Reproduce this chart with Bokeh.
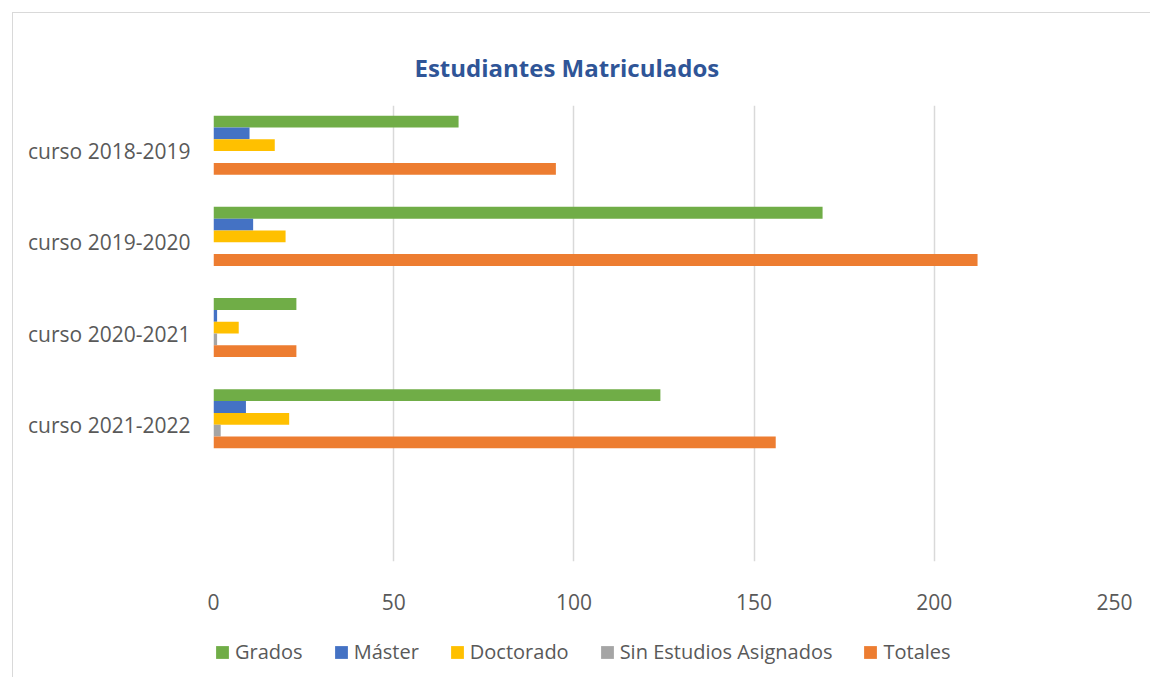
from bokeh.plotting import figure
from bokeh.layouts import column
from bokeh.models import ColumnDataSource, FactorRange, FixedTicker, Legend, LegendItem, Range1d
from bokeh.transform import dodge
from bokeh.embed import file_html
from bokeh.resources import INLINE

# ---- data ----
cursos = ["curso 2018-2019", "curso 2019-2020", "curso 2020-2021", "curso 2021-2022"]
grados = [68, 169, 23, 124]
master = [10, 11, 1, 9]
doctorado = [17, 20, 7, 21]
sin_estudios = [0, 0, 1, 2]
totales = [95, 212, 23, 156]
x_ticks = [0, 50, 100, 150, 200, 250]
series_names = ["Grados", "Máster", "Doctorado", "Sin Estudios Asignados", "Totales"]
series_keys = ["grados", "master", "doctorado", "sin", "totales"]
colors = ["#70AD47", "#4472C4", "#FFC000", "#A5A5A5", "#ED7D31"]

source = ColumnDataSource(dict(curso=cursos, grados=grados, master=master,
                               doctorado=doctorado, sin=sin_estudios, totales=totales))

factors = [" "] + cursos[::-1]
FONT = "Open Sans"
TXT = "#595959"
BORDER = "#D9D9D9"

W = 1150
H_MAIN = 625
H_LEG = 52

p = figure(width=W, height=H_MAIN,
           y_range=FactorRange(factors=factors),
           x_range=Range1d(0, 250),
           output_backend="svg", toolbar_location=None,
           min_border_left=213, min_border_right=36,
           min_border_top=105, min_border_bottom=H_MAIN - 561)
p.border_fill_alpha = 0
p.styles = {
    "background": f"linear-gradient({BORDER},{BORDER}) 12px 12px / 1px 100% no-repeat, "
                  f"linear-gradient({BORDER},{BORDER}) 12px 12px / 100% 1px no-repeat, #FFFFFF"
}

p.title.text = "Estudiantes Matriculados"
p.title.text_font = FONT
p.title.text_font_style = "bold"
p.title.text_font_size = "24px"
p.title.text_color = "#2F5597"
p.title.align = "left"
p.title.offset = 201
p.title.standoff = 44

h = 0.1295
offsets = [2.5 * h, 1.5 * h, 0.5 * h, -0.5 * h, -1.5 * h]
for key, col, off in zip(series_keys, colors, offsets):
    p.hbar(y=dodge("curso", off, range=p.y_range), right=key, left=0,
           height=h, source=source, fill_color=col, line_color=None)

p.xaxis.ticker = FixedTicker(ticks=x_ticks)
p.xaxis.axis_line_color = None
p.xaxis.major_tick_line_color = None
p.xaxis.minor_tick_line_color = None
p.xaxis.major_label_text_font = FONT
p.xaxis.major_label_text_font_size = "21px"
p.xaxis.major_label_text_color = TXT
p.xaxis.major_label_standoff = 26

p.yaxis.axis_line_color = None
p.yaxis.major_tick_line_color = None
p.yaxis.major_label_text_font = FONT
p.yaxis.major_label_text_font_size = "21px"
p.yaxis.major_label_text_color = TXT
p.yaxis.major_label_standoff = 17

p.xgrid.grid_line_color = BORDER
p.xgrid.grid_line_width = 1.5
p.ygrid.grid_line_color = None
p.outline_line_color = None

# ---- legend strip (swatch glyphs placed outside the visible range) ----
q = figure(width=W, height=H_LEG, x_range=Range1d(0, 1), y_range=Range1d(0, 1),
           x_axis_type=None, y_axis_type=None,
           output_backend="svg", toolbar_location=None,
           min_border_left=0, min_border_right=0, min_border_top=0, min_border_bottom=0)
q.outline_line_color = None
q.grid.visible = False
q.border_fill_alpha = 0
q.background_fill_alpha = 0
q.styles = {
    "background": f"linear-gradient({BORDER},{BORDER}) 12px 0px / 1px 100% no-repeat, #FFFFFF"
}
swatch = ColumnDataSource(dict(x=[-5], y=[-5]))
items = []
for name, col in zip(series_names, colors):
    r = q.vbar(x="x", top="y", bottom=-6, width=1, source=swatch,
               fill_color=col, line_color=None)
    items.append(LegendItem(label=name, renderers=[r]))

legend = Legend(items=items, orientation="horizontal",
                glyph_width=16, glyph_height=16, label_standoff=5, spacing=30,
                label_text_font=FONT, label_text_font_size="20px",
                label_text_color=TXT, border_line_color=None,
                background_fill_alpha=0,
                padding=0, margin=0, location=(1, 12))
q.add_layout(legend, "center")

layout = column(p, q, spacing=0)
open("out.html", "w").write(file_html(layout, INLINE))
